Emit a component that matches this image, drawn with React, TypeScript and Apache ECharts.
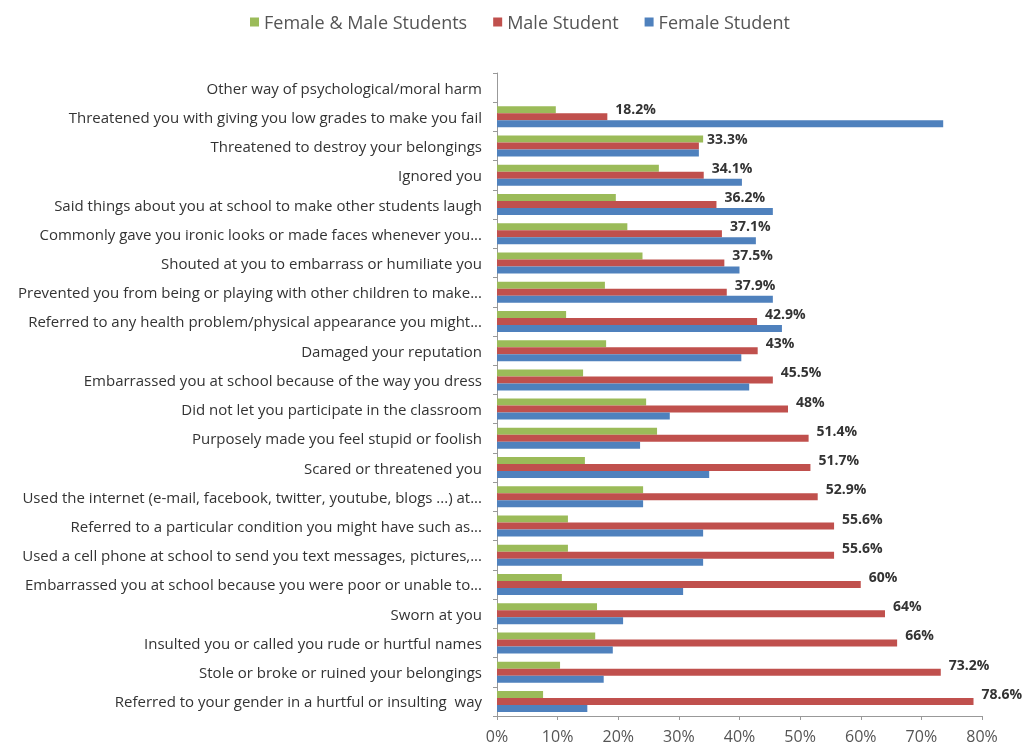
import React, { useEffect, useRef } from "react";
import * as echarts from "echarts";

const categories = [
  "Other way of psychological/moral harm",
  "Threatened you with giving you low grades to make you fail",
  "Threatened to destroy your belongings",
  "Ignored you",
  "Said things about you at school to make other students laugh",
  "Commonly gave you ironic looks or made faces whenever you...",
  "Shouted at you to embarrass or humiliate you",
  "Prevented you from being or playing with other children to make...",
  "Referred to any health problem/physical appearance you might...",
  "Damaged your reputation",
  "Embarrassed you at school because of the way you dress",
  "Did not let you participate in the classroom",
  "Purposely made you feel stupid or foolish",
  "Scared or threatened you",
  "Used the internet (e-mail, facebook, twitter, youtube, blogs ...) at...",
  "Referred to a particular condition you might have such as...",
  "Used a cell phone at school to send you text messages, pictures,...",
  "Embarrassed you at school because you were poor or unable to...",
  "Sworn at you",
  "Insulted you or called you rude or hurtful names",
  "Stole or broke or ruined your belongings",
  "Referred to your gender in a hurtful or insulting  way",
];

const bothValues = [0, 9.7, 34, 26.7, 19.6, 21.5, 24, 17.8, 11.4, 18, 14.2, 24.6, 26.4, 14.5, 24.1, 11.7, 11.7, 10.7, 16.5, 16.2, 10.4, 7.6];
const maleValues = [0, 18.2, 33.3, 34.1, 36.2, 37.1, 37.5, 37.9, 42.9, 43, 45.5, 48, 51.4, 51.7, 52.9, 55.6, 55.6, 60, 64, 66, 73.2, 78.6];
const femaleValues = [0, 73.6, 33.3, 40.4, 45.5, 42.7, 40, 45.5, 47, 40.3, 41.6, 28.5, 23.6, 35, 24.1, 34, 34, 30.7, 20.8, 19.1, 17.6, 14.9];

const xTicks = [0, 10, 20, 30, 40, 50, 60, 70, 80];

export default function App() {
  const ref = useRef<HTMLDivElement>(null);
  useEffect(() => {
    if (!ref.current) return;
    const chart = echarts.init(ref.current, null, { renderer: "svg" });
    const font = "'Open Sans', 'Noto Sans', sans-serif";
    chart.setOption({
      animation: false,
      textStyle: { fontFamily: font },
      legend: {
        data: ["Female & Male Students", "Male Student", "Female Student"],
        top: 8,
        left: 245,
        itemWidth: 9,
        itemHeight: 9,
        itemGap: 26,
        icon: "rect",
        textStyle: { fontSize: 18, color: "#555", fontFamily: font },
      },
      grid: { left: 497, right: 42, top: 73, bottom: 35, containLabel: false },
      xAxis: {
        type: "value",
        min: xTicks[0],
        max: xTicks[xTicks.length - 1],
        interval: 10,
        axisLine: { show: true, lineStyle: { color: "#999" } },
        axisTick: { show: true, inside: false, length: 4, lineStyle: { color: "#999" } },
        splitLine: { show: false },
        axisLabel: { formatter: "{value}%", fontSize: 16, color: "#555", margin: 12, fontFamily: font },
      },
      yAxis: {
        type: "category",
        data: categories,
        inverse: true,
        axisLine: { show: true, lineStyle: { color: "#999" } },
        axisTick: { show: true, length: 4, lineStyle: { color: "#999" } },
        axisLabel: { fontSize: 15, color: "#333", margin: 15, fontFamily: font },
      },
      series: [
        {
          name: "Female & Male Students",
          type: "bar",
          data: bothValues,
          barWidth: 7,
          barGap: "0%",
          itemStyle: { color: "#9BBB59" },
        },
        {
          name: "Male Student",
          type: "bar",
          data: maleValues,
          barWidth: 7,
          barGap: "0%",
          itemStyle: { color: "#C0504D" },
          label: {
            show: true,
            position: "right",
            offset: [3, -8],
            fontWeight: "bold",
            fontSize: 14,
            color: "#333",
            fontFamily: font,
            formatter: (p: any) => (p.value ? p.value + "%" : ""),
          },
        },
        {
          name: "Female Student",
          type: "bar",
          data: femaleValues,
          barWidth: 7,
          barGap: "0%",
          itemStyle: { color: "#4F81BD" },
        },
      ],
    });
    return () => chart.dispose();
  }, []);
  return <div ref={ref} style={{ position: "fixed", left: 0, top: 0, width: 1024, height: 751 }} />;
}
